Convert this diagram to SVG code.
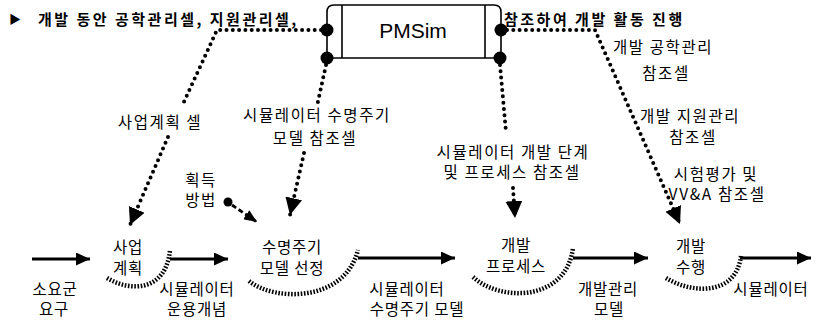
<svg xmlns="http://www.w3.org/2000/svg" width="816" height="320" viewBox="0 0 816 320">
<defs>
<style>
.k{font-family:"Noto Sans CJK KR","Noto Sans",sans-serif;fill:#000;}
.top{font-size:15px;font-weight:bold;letter-spacing:2.5px;}
.mid{font-size:15.5px;letter-spacing:1.6px;text-anchor:middle;}
.bot{font-size:15.5px;letter-spacing:0.8px;text-anchor:middle;}
.dot{fill:none;stroke:#000;stroke-width:4;stroke-linecap:round;stroke-dasharray:0 6.3;}
.dash{fill:none;stroke:#000;stroke-width:2.8;stroke-dasharray:5 3;}
.solid{fill:none;stroke:#000;stroke-width:3;}
.hatch{fill:none;stroke:#000;stroke-width:4.5;stroke-dasharray:1.6 1.6;}
.box{fill:#fff;stroke:#000;stroke-width:1.6;}
</style>
<marker id="ahBig" markerUnits="userSpaceOnUse" markerWidth="18" markerHeight="18" refX="17" refY="8.5" orient="auto"><path d="M0,0 L17,8.5 L0,17 z" fill="#000"/></marker>
<marker id="ahMid" markerUnits="userSpaceOnUse" markerWidth="14" markerHeight="13" refX="14" refY="6.5" orient="auto"><path d="M0,0 L14,6.5 L0,13 z" fill="#000"/></marker>
<marker id="ahSmall" markerUnits="userSpaceOnUse" markerWidth="13" markerHeight="11" refX="13" refY="5.5" orient="auto"><path d="M0,0 L13,5.5 L0,11 z" fill="#000"/></marker>
</defs>
<rect width="816" height="320" fill="#fff"/>

<g id="connectors">
  <path class="dot" d="M321,30 H217 L183,104"/>
  <path class="dot" d="M168,137 L130,225" marker-end="url(#ahBig)"/>
  <path class="dot" d="M326,65 L317,106"/>
  <path class="dot" d="M304,153 L290,215" marker-end="url(#ahBig)"/>
  <path class="dot" d="M507,30 H595 L680,224" marker-end="url(#ahBig)"/>
  <path class="dot" d="M500,65 L506,132"/>
  <path class="dot" d="M513,188 L515,218" marker-end="url(#ahBig)"/>
  <path class="dash" d="M232,205 L257,222" marker-end="url(#ahSmall)"/>
  <path class="solid" d="M32,259 H90" marker-end="url(#ahMid)"/>
  <path class="solid" d="M170,259 H228" marker-end="url(#ahMid)"/>
  <path class="solid" d="M358,258 H455" marker-end="url(#ahMid)"/>
  <path class="solid" d="M573,258 H648" marker-end="url(#ahMid)"/>
  <path class="solid" d="M740,258 H811" marker-end="url(#ahMid)"/>
  <path class="hatch" d="M107,278 C130,292 166,292 170,250"/>
  <path class="hatch" d="M249,281 C275,302 345,302 358,250"/>
  <path class="hatch" d="M473,277 C500,302 566,302 573,248"/>
  <path class="hatch" d="M666,278 C692,294 736,296 741,256"/>
</g>

<g id="pmsim">
  <path class="box" d="M327,58 V12 Q327,5 334,5 H494 Q501,5 501,12 V58 Z"/>
  <line x1="342" y1="5" x2="342" y2="58" stroke="#000" stroke-width="1.6"/>
  <line x1="485" y1="5" x2="485" y2="58" stroke="#000" stroke-width="1.6"/>
  <text x="413" y="38" font-family="Liberation Sans, Arial, sans-serif" font-size="21" text-anchor="middle">PMSim</text>
  <circle cx="327" cy="30" r="6.5"/>
  <circle cx="327" cy="58" r="6.5"/>
  <circle cx="501" cy="30" r="6.5"/>
  <circle cx="500" cy="58" r="6.5"/>
</g>

<g id="intro-left">
  <text class="k" x="9" y="24" font-size="12" font-family="DejaVu Sans, sans-serif">▶</text>
  <text class="k top" x="38" y="25">개발 동안 공학관리셀, 지원관리셀,</text>
</g>
<g id="intro-right">
  <text class="k top" x="504" y="25">참조하여 개발 활동 진행</text>
</g>

<g id="ref-business-plan"><text class="k mid" x="160" y="128">사업계획 셀</text></g>
<g id="ref-lifecycle"><text class="k mid" x="317" y="121">시뮬레이터 수명주기</text><text class="k mid" x="315" y="144">모델 참조셀</text></g>
<g id="ref-dev-stage"><text class="k mid" x="513" y="158">시뮬레이터 개발 단계</text><text class="k mid" x="512" y="178">및 프로세스 참조셀</text></g>
<g id="ref-eng-mgmt"><text class="k mid" x="663" y="53">개발 공학관리</text><text class="k mid" x="666" y="79">참조셀</text></g>
<g id="ref-sup-mgmt"><text class="k mid" x="690" y="122">개발 지원관리</text><text class="k mid" x="693" y="143">참조셀</text></g>
<g id="ref-test"><text class="k mid" x="716" y="180">시험평가 및</text><text class="k mid" x="717" y="200">VV&amp;A 참조셀</text></g>
<g id="acquisition"><text class="k mid" x="201" y="186">획득</text><text class="k mid" x="201" y="206">방법</text><circle cx="228" cy="202" r="4.5"/></g>

<g id="n-requirement"><text class="k bot" x="55" y="295">소요군</text><text class="k bot" x="54" y="315">요구</text></g>
<g id="n-business-plan"><text class="k bot" x="128" y="253">사업</text><text class="k bot" x="128" y="274">계획</text></g>
<g id="n-concept"><text class="k bot" x="197" y="295">시뮬레이터</text><text class="k bot" x="197" y="315">운용개념</text></g>
<g id="n-lifecycle-select"><text class="k bot" x="292" y="253">수명주기</text><text class="k bot" x="292" y="274">모델 선정</text></g>
<g id="n-lifecycle-model"><text class="k bot" x="407" y="295">시뮬레이터</text><text class="k bot" x="417" y="315">수명주기 모델</text></g>
<g id="n-dev-process"><text class="k bot" x="516" y="251">개발</text><text class="k bot" x="516" y="272">프로세스</text></g>
<g id="n-dev-mgmt-model"><text class="k bot" x="608" y="295">개발관리</text><text class="k bot" x="609" y="315">모델</text></g>
<g id="n-dev-execution"><text class="k bot" x="691" y="252">개발</text><text class="k bot" x="691" y="273">수행</text></g>
<g id="n-simulator"><text class="k bot" x="771" y="295">시뮬레이터</text></g>
</svg>
